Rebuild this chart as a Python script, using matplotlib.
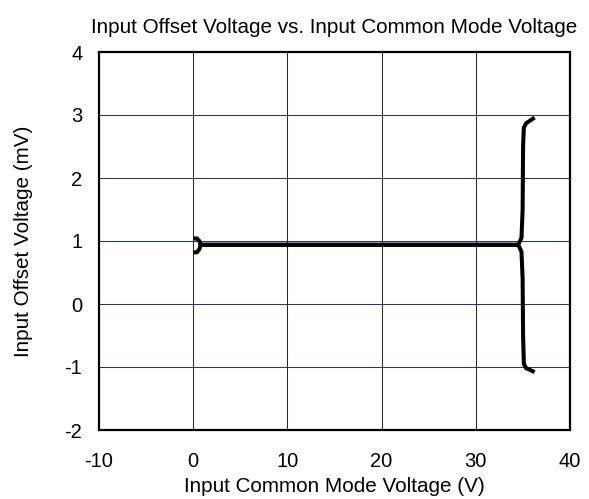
import matplotlib
matplotlib.use("Agg")
import matplotlib.pyplot as plt

plt.rcParams['font.family'] = ['Liberation Sans', 'DejaVu Sans']
plt.rcParams['axes.unicode_minus'] = False

# Upper branch (bracket top at 0 V, flat line, rise near the upper rail)
x_upper = [0.0, 0.4, 0.65, 0.8, 5.0, 10.0, 15.0, 20.0, 25.0, 30.0, 34.5, 34.85, 34.97, 35.02, 35.1, 35.35, 36.25]
y_upper = [1.04, 1.04, 1.0, 0.94, 0.94, 0.94, 0.94, 0.94, 0.94, 0.94, 0.94, 1.05, 1.5, 2.5, 2.8, 2.87, 2.96]

# Lower branch (bracket bottom at 0 V, flat line, drop near the upper rail)
x_lower = [0.0, 0.4, 0.65, 0.8, 5.0, 10.0, 15.0, 20.0, 25.0, 30.0, 34.5, 34.85, 34.97, 35.02, 35.1, 35.35, 36.25]
y_lower = [0.82, 0.82, 0.87, 0.94, 0.94, 0.94, 0.94, 0.94, 0.94, 0.94, 0.94, 0.83, 0.4, -0.5, -0.95, -1.02, -1.08]

x_ticks = [-10, 0, 10, 20, 30, 40]
y_ticks = [-2, -1, 0, 1, 2, 3, 4]

fig = plt.figure(figsize=(5.89, 4.99), dpi=100)
ax = fig.add_axes([99/589, 1 - 430/499, (570 - 99)/589, (430 - 52)/499])

for xv in x_ticks[1:-1]:
    ax.axvline(xv, color='#2a2a2a', lw=0.75, zorder=1)
for yv in y_ticks[1:-1]:
    ax.axhline(yv, color='#203864', lw=0.75, zorder=1)

for xs, ys in [(x_upper, y_upper), (x_lower, y_lower)]:
    ax.plot(xs, ys, color='black', lw=2.9, solid_joinstyle='round',
            solid_capstyle='butt', zorder=3)

ax.set_xlim(-10, 40)
ax.set_ylim(-2, 4)
ax.set_xticks(x_ticks)
ax.set_yticks(y_ticks)
ax.tick_params(axis='both', length=0, labelsize=14.5)
ax.tick_params(axis='x', pad=16)
ax.tick_params(axis='y', pad=12)
for s in ax.spines.values():
    s.set_linewidth(1.6)
    s.set_color('black')

ax.set_title('Input Offset Voltage vs. Input Common Mode Voltage', fontsize=14.9, pad=14)
ax.set_xlabel('Input Common Mode Voltage (V)', fontsize=14.9, labelpad=4)
ax.set_ylabel('Input Offset Voltage (mV)', fontsize=14.9, labelpad=23)

fig.savefig('out.png', dpi=100)
